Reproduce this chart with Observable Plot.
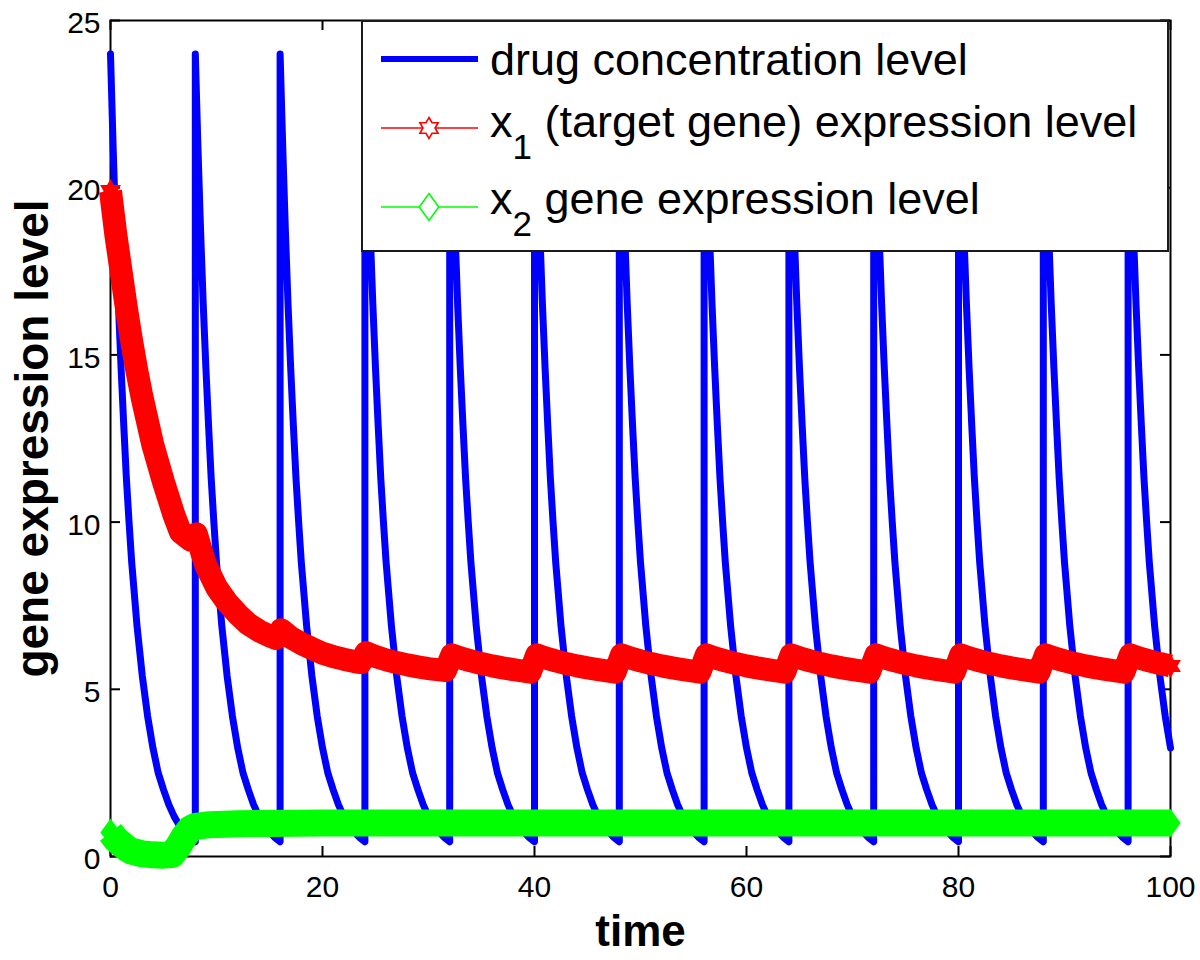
<!DOCTYPE html>
<html>
<head>
<meta charset="utf-8">
<script src="https://cdn.jsdelivr.net/npm/d3@7"></script>
<script src="https://cdn.jsdelivr.net/npm/@observablehq/plot@0.6"></script>
<style>
  body { margin: 0; background: #fff; }
  #wrap { position: relative; width: 1200px; height: 960px; }
  #wrap > svg { position: absolute; left: 0; top: 0; }
</style>
</head>
<body>
<div id="wrap"></div>
<script>
// ---------------- data ----------------
// drug doses: every 8 time units, each followed by the same decay profile
const doseTimes = [0, 8, 16, 24, 32, 40, 48, 56, 64, 72, 80, 88, 96];
const drugOffsets = [0, 0.25, 0.5, 0.75, 1, 1.25, 1.5, 1.75, 2, 2.5, 3, 3.5, 4, 4.5, 5, 5.5, 6, 6.5, 7, 7.5, 8];
const drugProfile = [24, 21.2, 18.7, 16.5, 14.6, 12.9, 11.3, 10.0, 8.8, 6.9, 5.4, 4.2, 3.25, 2.5, 2.0, 1.55, 1.2, 0.93, 0.73, 0.57, 0.44];

// x1 (target gene): transient part
const x1Times = [0, 0.5, 1, 1.5, 2, 2.5, 3, 4, 5, 6, 6.6, 7.6,
                 8.1, 8.6, 9, 10, 11, 12, 13, 14, 15, 15.6,
                 16.1, 17, 18, 19, 20, 21, 22, 23, 23.6,
                 24.1, 25, 26, 27, 28, 29, 30, 31, 31.6];
const x1Values = [19.9, 18.6, 17.5, 16.4, 15.4, 14.5, 13.7, 12.3, 11.2, 10.2, 9.7, 9.45,
                  9.65, 9.1, 8.7, 8.05, 7.6, 7.25, 6.95, 6.75, 6.6, 6.52,
                  6.78, 6.55, 6.37, 6.22, 6.08, 5.98, 5.9, 5.83, 5.8,
                  6.1, 5.98, 5.88, 5.8, 5.73, 5.67, 5.62, 5.58, 5.56];
// x1 periodic (steady) part: one cycle per dose from t = 32 on
const x1SteadyDoses = [32, 40, 48, 56, 64, 72, 80, 88, 96];
const x1SteadyOffsets = [0.2, 1, 2, 3, 4, 5, 6, 7, 7.6];
const x1SteadyProfile = [6.03, 5.94, 5.85, 5.77, 5.7, 5.64, 5.59, 5.54, 5.51];

// x2 gene
const x2Times = [0, 0.5, 1, 1.5, 2, 3, 4, 5, 5.8, 6.4, 7, 7.5, 8, 9, 10, 12, 15, 20, 100];
const x2Values = [0.72, 0.52, 0.38, 0.25, 0.16, 0.08, 0.05, 0.04, 0.06, 0.3, 0.62, 0.82, 0.9, 0.94, 0.96, 0.98, 0.99, 1.0, 1.0];

const tEnd = 100;
const xTicks = [0, 20, 40, 60, 80, 100];
const yTicks = [0, 5, 10, 15, 20, 25];

const seriesNames = ["drug concentration level", "(target gene) expression level", "gene expression level"];
const colors = {drug: "#0000ff", x1: "#ff0000", x2: "#00ff00"};

// ---------------- tables ----------------
const drug = [];
for (const d of doseTimes) {
  drugOffsets.forEach((o, i) => { if (d + o <= tEnd) drug.push({t: d + o, v: drugProfile[i]}); });
}
const x1 = x1Times.map((t, i) => ({t, v: x1Values[i]}));
for (const d of x1SteadyDoses) {
  x1SteadyOffsets.forEach((o, i) => { if (d + o <= tEnd) x1.push({t: d + o, v: x1SteadyProfile[i]}); });
}
const x2 = x2Times.map((t, i) => ({t, v: x2Values[i]}));

// ---------------- marker symbols (MATLAB-like) ----------------
const hexagram = {
  draw(ctx, size) {
    const R = Math.sqrt(size / Math.PI), r = R / Math.sqrt(3);
    for (let k = 0; k < 12; k++) {
      const a = -Math.PI / 2 + k * Math.PI / 6, rr = k % 2 ? r : R;
      const px = rr * Math.cos(a), py = rr * Math.sin(a);
      k ? ctx.lineTo(px, py) : ctx.moveTo(px, py);
    }
    ctx.closePath();
  }
};
const diamond = {
  draw(ctx, size) {
    const R = Math.sqrt(size / Math.PI), w = R * 0.72;
    ctx.moveTo(0, -R); ctx.lineTo(w, 0); ctx.lineTo(0, R); ctx.lineTo(-w, 0); ctx.closePath();
  }
};

const FONT = "'Liberation Sans', Arial, Helvetica, sans-serif";

const chart = Plot.plot({
  width: 1200,
  height: 960,
  marginLeft: 110,
  marginRight: 30,
  marginTop: 20,
  marginBottom: 104,
  x: {domain: [0, 100]},
  y: {domain: [0, 25]},
  style: {fontFamily: FONT, background: "white", color: "black", overflow: "visible"},
  marks: [
    Plot.frame({stroke: "black", strokeWidth: 2}),
    Plot.tickX(xTicks, {x: d => d, stroke: "black", strokeWidth: 2, insetTop: 826}),
    Plot.tickX(xTicks, {x: d => d, stroke: "black", strokeWidth: 2, insetBottom: 826}),
    Plot.tickY(yTicks, {y: d => d, stroke: "black", strokeWidth: 2, insetRight: 1050}),
    Plot.tickY(yTicks, {y: d => d, stroke: "black", strokeWidth: 2, insetLeft: 1050}),
    Plot.axisX({ticks: xTicks, tickSize: 0, tickPadding: 19, fontSize: 30, label: null}),
    Plot.axisY({ticks: yTicks, tickSize: 0, tickPadding: 10, fontSize: 30, label: null, dy: 3}),
    Plot.text(["time"], {frameAnchor: "bottom", textAnchor: "middle", dy: 89, fontSize: 44, fontWeight: "bold"}),
    Plot.text(["gene expression level"], {frameAnchor: "left", textAnchor: "middle", dx: -77, rotate: -90, fontSize: 46, fontWeight: "bold"}),
    Plot.line(drug, {x: "t", y: "v", stroke: colors.drug, strokeWidth: 7, strokeLinejoin: "round", strokeLinecap: "round"}),
    Plot.line(x1, {x: "t", y: "v", stroke: colors.x1, strokeWidth: 23, strokeLinejoin: "round", strokeLinecap: "butt"}),
    Plot.dot([x1[0], x1[x1.length - 1]], {x: "t", y: "v", r: 12, symbol: hexagram, fill: colors.x1, stroke: "none"}),
    Plot.line(x2, {x: "t", y: "v", stroke: colors.x2, strokeWidth: 27, strokeLinejoin: "round", strokeLinecap: "butt"}),
    Plot.dot([x2[0], x2[x2.length - 1]], {x: "t", y: "v", r: 14, symbol: diamond, fill: colors.x2, stroke: "none"})
  ]
});

const wrap = document.getElementById("wrap");
wrap.appendChild(chart);

// ---------------- legend (MATLAB-style box inside the axes) ----------------
const leg = d3.create("svg").attr("width", 1200).attr("height", 960)
  .style("pointer-events", "none")
  .attr("font-family", FONT);
leg.append("rect").attr("x", 362).attr("y", 21).attr("width", 806).attr("height", 230)
  .attr("fill", "white").attr("stroke", "#1a1a1a").attr("stroke-width", 2);

// entry 1
leg.append("line").attr("x1", 381).attr("x2", 478).attr("y1", 59).attr("y2", 59)
  .attr("stroke", colors.drug).attr("stroke-width", 6);
leg.append("text").attr("x", 490).attr("y", 75).attr("font-size", 45).text(seriesNames[0]);

// entry 2
leg.append("line").attr("x1", 381).attr("x2", 478).attr("y1", 128).attr("y2", 128)
  .attr("stroke", colors.x1).attr("stroke-width", 1.6);
leg.append("path").attr("transform", "translate(429,128)")
  .attr("d", d3.symbol(hexagram, 10.5 * 10.5 * Math.PI)())
  .attr("fill", "white").attr("stroke", colors.x1).attr("stroke-width", 1.6);
const t2 = leg.append("text").attr("x", 490).attr("y", 137).attr("font-size", 45);
t2.append("tspan").text("x");
t2.append("tspan").attr("dy", 22).attr("font-size", 35).text("1");
t2.append("tspan").attr("dy", -22).text("\u00a0" + seriesNames[1]);

// entry 3
leg.append("line").attr("x1", 381).attr("x2", 478).attr("y1", 207).attr("y2", 207)
  .attr("stroke", colors.x2).attr("stroke-width", 1.6);
leg.append("path").attr("transform", "translate(429,207)")
  .attr("d", d3.symbol(diamond, 13.5 * 13.5 * Math.PI)())
  .attr("fill", "white").attr("stroke", colors.x2).attr("stroke-width", 1.6);
const t3 = leg.append("text").attr("x", 490).attr("y", 214).attr("font-size", 45);
t3.append("tspan").text("x");
t3.append("tspan").attr("dy", 22).attr("font-size", 35).text("2");
t3.append("tspan").attr("dy", -22).text("\u00a0" + seriesNames[2]);

wrap.appendChild(leg.node());
</script>
</body>
</html>
